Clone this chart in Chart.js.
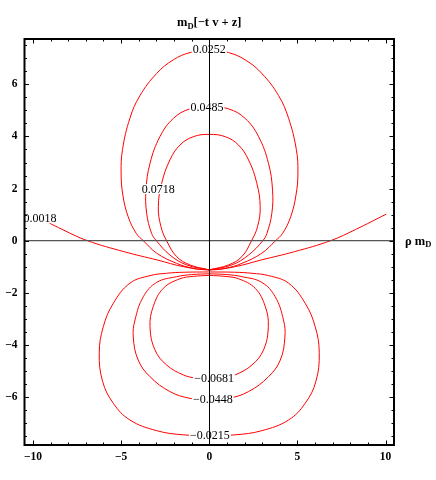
<!DOCTYPE html>
<html>
<head>
<meta charset="utf-8">
<title>m_D[-t v + z] contours</title>
<script src="https://cdn.jsdelivr.net/npm/chart.js@4.4.1/dist/chart.umd.min.js"></script>
<style>
  html, body { margin: 0; padding: 0; background: #fff; }
  canvas { display: block; }
</style>
</head>
<body>
<canvas id="contourChart" width="436" height="480"></canvas>
<script>
// Axis ticks (major ones get labels)
const xTicks = [-10, -5, 0, 5, 10];
const yTicks = [-6, -4, -2, 0, 2, 4, 6];

// Contour lines as [rho mD, mD(-t v + z)] points
const curve0018 = [[-10, 1.0], [-8.3, 0.42], [-6.91, 0], [-4.84, -0.42], [-2.95, -0.74], [-1.44, -1.0], [0, -1.12],
    [1.44, -1.0], [2.95, -0.74], [4.84, -0.42], [6.88, 0], [8.3, 0.43], [10.04, 1.02]];

const curve0252 = [[0, -1.12], [-0.91, -1.06], [-1.85, -0.87], [-2.98, -0.48], [-3.74, 0], [-4.14, 0.28], [-4.6, 0.92],
    [-4.9, 1.75], [-5.0, 2.6], [-4.92, 3.5], [-4.5, 4.7], [-3.93, 5.57], [-2.98, 6.42], [-2.04, 6.94], [-1.09, 7.22],
    [0, 7.33], [1.09, 7.22], [2.04, 6.94], [2.98, 6.42], [3.93, 5.57], [4.5, 4.7], [4.94, 3.5], [5.03, 2.6], [4.92, 1.75],
    [4.62, 0.92], [4.16, 0.28], [3.76, 0], [2.98, -0.48], [1.85, -0.87], [0.91, -1.06], [0, -1.12]];

const curve0485 = [[0, -1.12], [-1.28, -0.93], [-2.23, -0.55], [-3.0, 0], [-3.27, 0.28], [-3.55, 1.05], [-3.59, 1.94],
    [-3.36, 2.97], [-2.8, 3.99], [-2.04, 4.69], [-1.09, 5.06], [0, 5.13], [1.09, 5.06], [2.04, 4.69], [2.8, 3.99],
    [3.36, 2.97], [3.59, 1.94], [3.55, 1.05], [3.27, 0.28], [3.04, 0], [2.23, -0.55], [1.28, -0.93], [0, -1.12]];

const curve0718 = [[0, -1.12], [-1.09, -0.93], [-1.85, -0.61], [-2.42, 0], [-2.74, 0.54], [-2.89, 1.3], [-2.7, 2.2],
    [-2.23, 3.1], [-1.66, 3.67], [-0.91, 3.99], [0, 4.08], [0.91, 3.99], [1.66, 3.67], [2.23, 3.1], [2.7, 2.2],
    [2.89, 1.3], [2.74, 0.54], [2.4, 0], [1.85, -0.61], [1.09, -0.93], [0, -1.12]];

const curveM0215 = [[0, -1.2], [-1.44, -1.21], [-2.42, -1.25], [-3.36, -1.34], [-4.5, -1.63], [-5.44, -2.4], [-6.01, -3.3],
    [-6.24, -4.3], [-6.05, -5.4], [-5.44, -6.24], [-4.5, -6.88], [-2.98, -7.29], [-1.47, -7.45], [0, -7.47],
    [1.47, -7.45], [2.98, -7.29], [4.5, -6.88], [5.44, -6.24], [6.05, -5.4], [6.24, -4.3], [6.01, -3.3], [5.44, -2.4],
    [4.5, -1.63], [3.36, -1.34], [2.42, -1.25], [1.44, -1.21], [0, -1.2]];

const curveM0448 = [[0, -1.27], [-1.0, -1.3], [-1.85, -1.38], [-2.98, -1.6], [-3.74, -2.15], [-4.21, -3.04], [-4.31, -3.7],
    [-4.03, -4.58], [-3.36, -5.22], [-2.23, -5.79], [-1.09, -6.05], [0, -6.1], [1.09, -6.05], [2.23, -5.79],
    [3.36, -5.22], [4.03, -4.58], [4.29, -3.7], [4.21, -3.04], [3.74, -2.15], [2.98, -1.6], [1.85, -1.38], [1.0, -1.3],
    [0, -1.27]];

const curveM0681 = [[0, -1.33], [-0.9, -1.37], [-1.66, -1.46], [-2.61, -1.83], [-3.18, -2.53], [-3.36, -3.3],
    [-3.08, -4.19], [-2.42, -4.77], [-1.47, -5.15], [-0.72, -5.28], [0, -5.32], [0.72, -5.28], [1.47, -5.15],
    [2.42, -4.77], [3.08, -4.19], [3.35, -3.3], [3.18, -2.53], [2.61, -1.83], [1.66, -1.46], [0.9, -1.37], [0, -1.33]];

// Contour labels and where they sit
const levelLabels = ['0.0018', '0.0252', '0.0485', '0.0718', '−0.0215', '−0.0448', '−0.0681'];
const labelPoints = [[-9.6, 0.86], [0, 7.36], [-0.13, 5.12], [-2.89, 1.98], [0.04, -7.48], [0.2, -6.08], [0.27, -5.3]];

const serif = '"Liberation Serif", "Times New Roman", serif';

// draw text runs like m + subscript D
function drawRuns(ctx, runs, x, baseline, align) {
    let total = 0;
    runs.forEach(r => {
        ctx.font = 'bold ' + r.size + 'px ' + serif;
        r.w = ctx.measureText(r.t).width;
        total += r.w;
    });
    let cx = align === 'center' ? x - total / 2 : x;
    ctx.textAlign = 'left';
    ctx.textBaseline = 'alphabetic';
    runs.forEach(r => {
        ctx.font = 'bold ' + r.size + 'px ' + serif;
        ctx.fillText(r.t, cx, baseline + (r.dy || 0));
        cx += r.w;
    });
}

const frameAndLabels = {
    id: 'frameAndLabels',
    afterDatasetsDraw(chart) {
        const {ctx, chartArea: a, scales: {x, y}} = chart;
        ctx.save();

        // contour labels on white boxes
        ctx.font = '12px ' + serif;
        ctx.textAlign = 'center';
        ctx.textBaseline = 'middle';
        levelLabels.forEach((txt, i) => {
            const px = x.getPixelForValue(labelPoints[i][0]);
            const py = y.getPixelForValue(labelPoints[i][1]);
            const w = ctx.measureText(txt).width;
            ctx.fillStyle = '#fff';
            ctx.fillRect(px - w / 2 - 1, py - 5, w + 2, 10);
            ctx.fillStyle = '#000';
            ctx.fillText(txt, px, py + 0.5);
        });

        // axes through the origin
        const x0 = Math.round(x.getPixelForValue(0)) + 0.5;
        const y0 = y.getPixelForValue(0);
        ctx.strokeStyle = '#555';
        ctx.lineWidth = 1.3;
        ctx.beginPath();
        ctx.moveTo(a.left, y0);
        ctx.lineTo(a.right, y0);
        ctx.stroke();
        ctx.strokeStyle = '#000';
        ctx.lineWidth = 1;
        ctx.beginPath();
        ctx.moveTo(x0, a.top);
        ctx.lineTo(x0, a.bottom);
        ctx.stroke();

        // inward ticks on all four sides
        const tick = (v, isX, len) => {
            if (isX) {
                const p = Math.round(x.getPixelForValue(v)) + 0.5;
                ctx.moveTo(p, a.bottom); ctx.lineTo(p, a.bottom - len);
                ctx.moveTo(p, a.top); ctx.lineTo(p, a.top + len);
            } else {
                const p = Math.round(y.getPixelForValue(v)) + 0.5;
                ctx.moveTo(a.left, p); ctx.lineTo(a.left + len, p);
                ctx.moveTo(a.right, p); ctx.lineTo(a.right - len, p);
            }
        };
        ctx.beginPath();
        for (let v = -10; v <= 10; v += 1) tick(v, true, xTicks.includes(v) ? 4.5 : 2.5);
        for (let v = -7.5; v <= 7.5; v += 0.5) tick(v, false, yTicks.includes(v) ? 4.5 : 2.5);
        ctx.stroke();

        // frame
        ctx.lineWidth = 2;
        ctx.strokeRect(a.left, a.top, a.right - a.left, a.bottom - a.top);

        // title and horizontal axis label
        ctx.fillStyle = '#000';
        drawRuns(ctx, [{t: 'm', size: 12.5}, {t: 'D', size: 8.5, dy: 2.5}, {t: '[−t v + z]', size: 12.5}],
            (a.left + a.right) / 2, 26, 'center');
        drawRuns(ctx, [{t: 'ρ m', size: 12.5}, {t: 'D', size: 8.5, dy: 2.5}], a.right + 11, y0 + 4, 'left');

        ctx.restore();
    }
};

const lineSet = pts => ({
    data: pts.map(p => ({x: p[0], y: p[1]})),
    showLine: true,
    borderColor: 'rgb(255, 0, 0)',
    borderWidth: 1,
    pointRadius: 0,
    tension: 0.4
});

const tickFont = { family: serif, size: 11.5, weight: 'bold' };

const ctx = document.getElementById('contourChart').getContext('2d');
new Chart(ctx, {
    type: 'scatter',
    data: {
        datasets: [curve0018, curve0252, curve0485, curve0718, curveM0215, curveM0448, curveM0681].map(lineSet)
    },
    options: {
        responsive: false,
        animation: false,
        events: [],
        layout: { padding: { top: 39, right: 42, bottom: 0, left: 0 } },
        plugins: {
            legend: { display: false },
            tooltip: { enabled: false },
            title: { display: false }
        },
        scales: {
            x: {
                type: 'linear',
                min: -10.48,
                max: 10.48,
                grid: { display: false, drawTicks: false },
                border: { display: false },
                afterBuildTicks: scale => { scale.ticks = xTicks.map(v => ({value: v})); },
                afterFit: scale => { scale.height = 35; },
                ticks: {
                    padding: 5,
                    color: '#000',
                    font: tickFont,
                    callback: v => v < 0 ? '−' + Math.abs(v) : String(v)
                }
            },
            y: {
                type: 'linear',
                min: -7.84,
                max: 7.74,
                grid: { display: false, drawTicks: false },
                border: { display: false },
                afterBuildTicks: scale => { scale.ticks = yTicks.map(v => ({value: v})); },
                afterFit: scale => { scale.width = 24.5; },
                ticks: {
                    padding: 7,
                    color: '#000',
                    font: tickFont,
                    callback: v => v < 0 ? '−' + Math.abs(v) : String(v)
                }
            }
        }
    },
    plugins: [frameAndLabels]
});
</script>
</body>
</html>
